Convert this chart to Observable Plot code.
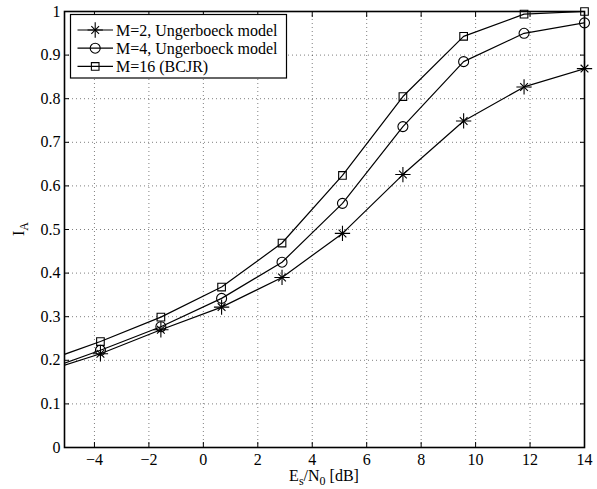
<!DOCTYPE html>
<html><head><meta charset="utf-8">
<script src="https://cdn.jsdelivr.net/npm/d3@7"></script>
<script src="https://cdn.jsdelivr.net/npm/@observablehq/plot@0.6"></script>
<style>
body{margin:0;background:#fff}
#chart svg{display:block}
</style>
</head><body><div id="chart"></div>
<script>
// Data
const snrDb = [-5.99, -3.78, -1.56, 0.67, 2.89, 5.11, 7.33, 9.56, 11.78, 14.0];
const iaM2  = [0.171, 0.215, 0.270, 0.322, 0.390, 0.491, 0.626, 0.749, 0.827, 0.869];
const iaM4  = [0.173, 0.223, 0.277, 0.342, 0.425, 0.560, 0.736, 0.885, 0.950, 0.974];
const iaM16 = [0.194, 0.243, 0.299, 0.368, 0.469, 0.624, 0.805, 0.943, 0.994, 1.000];
const seriesNames = ["M=2, Ungerboeck model", "M=4, Ungerboeck model", "M=16 (BCJR)"];
const seriesSymbols = ["star", "circle", "square"];
const xTicks = [-4, -2, 0, 2, 4, 6, 8, 10, 12, 14];
const yTicks = [0, 0.1, 0.2, 0.3, 0.4, 0.5, 0.6, 0.7, 0.8, 0.9, 1];
const xDomain = [-5.1, 14];
const yDomain = [0, 1];

const rows = [];
[iaM2, iaM4, iaM16].forEach((vals, s) => {
  vals.forEach((v, i) => rows.push({x: snrDb[i], y: v, series: seriesNames[s], sym: seriesSymbols[s]}));
});
const visible = d => d.x >= xDomain[0];

const fmtY = d => String(+d.toFixed(1));
const font = "Liberation Serif, Times New Roman, serif";

const chart = Plot.plot({
  width: 597,
  height: 489,
  marginLeft: 64,
  marginRight: 13,
  marginTop: 11,
  marginBottom: 42,
  style: {fontFamily: font, fontSize: "16px", background: "#fff", color: "#000"},
  x: {domain: xDomain},
  y: {domain: yDomain},
  marks: [
    Plot.gridX(xTicks, {stroke: "#000", strokeOpacity: 0.5, strokeDasharray: "1,3"}),
    Plot.gridY(yTicks, {stroke: "#000", strokeOpacity: 0.5, strokeDasharray: "1,3"}),
    Plot.axisX(xTicks, {anchor: "bottom", tickSize: -5, tickPadding: 11, label: null, fontSize: 16}),
    Plot.axisX(xTicks, {anchor: "top", tickSize: -5, tickFormat: () => "", label: null}),
    Plot.axisY(yTicks, {anchor: "left", tickSize: -5, tickPadding: 9, tickFormat: fmtY, label: null, fontSize: 16}),
    Plot.axisY(yTicks, {anchor: "right", tickSize: -5, tickFormat: () => "", label: null}),
    Plot.line(rows, {x: "x", y: "y", z: "series", stroke: "#000", strokeWidth: 1.2, clip: true}),
    Plot.dot(rows.filter(d => visible(d) && d.sym === "circle"), {x: "x", y: "y", symbol: "circle", r: 5, stroke: "#000", strokeWidth: 1.1, fill: "none"}),
    Plot.dot(rows.filter(d => visible(d) && d.sym === "square"), {x: "x", y: "y", symbol: "square", r: 4.3, stroke: "#000", strokeWidth: 1.1, fill: "none"}),
    Plot.dot(rows.filter(d => visible(d) && d.sym === "star"), {x: "x", y: "y", symbol: "plus", r: 5, stroke: "#000", strokeWidth: 1.1, fill: "none"}),
    Plot.dot(rows.filter(d => visible(d) && d.sym === "star"), {x: "x", y: "y", symbol: "times", r: 3.6, stroke: "#000", strokeWidth: 1.1, fill: "none"}),
    Plot.frame({stroke: "#000", strokeWidth: 1.6})
  ]
});
document.getElementById("chart").appendChild(chart);

// Axis labels and legend
const svg = d3.select(chart);
const xs = chart.scale("x"), ys = chart.scale("y");
const pLeft = xs.range[0], pRight = xs.range[1];
const pTop = ys.range[1], pBottom = ys.range[0];

const xl = svg.append("text")
  .attr("x", (pLeft + pRight) / 2).attr("y", 481)
  .attr("text-anchor", "middle").style("font-family", font).style("font-size", "16px").attr("fill", "#000");
xl.append("tspan").text("E");
xl.append("tspan").attr("dy", 4).attr("font-size", "12px").text("s");
xl.append("tspan").attr("dy", -4).text("/N");
xl.append("tspan").attr("dy", 4).attr("font-size", "12px").text("0");
xl.append("tspan").attr("dy", -4).text(" [dB]");

const yl = svg.append("text")
  .attr("transform", `translate(24,${(pTop + pBottom) / 2}) rotate(-90)`)
  .attr("text-anchor", "middle").style("font-family", font).style("font-size", "16px").attr("fill", "#000");
yl.append("tspan").text("I");
yl.append("tspan").attr("dy", 4).attr("font-size", "12px").text("A");

// Legend box
const lg = svg.append("g").attr("transform", `translate(${pLeft + 6.5},${pTop + 3.5})`);
lg.append("rect").attr("x", 0).attr("y", 0).attr("width", 216).attr("height", 63.5)
  .attr("fill", "#fff").attr("stroke", "#000").attr("stroke-width", 1.2);
const symGen = {
  circle: d3.symbol(d3.symbolCircle, Math.PI * 25),
  square: d3.symbol(d3.symbolSquare, Math.PI * 4.3 * 4.3),
  plus: d3.symbol(d3.symbolPlus, Math.PI * 25),
  times: d3.symbol(d3.symbolTimes, Math.PI * 3.6 * 3.6)
};
seriesNames.forEach((name, i) => {
  const cy = 15.5 + i * 18.2;
  const row = lg.append("g").attr("transform", `translate(0,${cy})`);
  row.append("line").attr("x1", 7).attr("x2", 42.5).attr("y1", 0).attr("y2", 0).attr("stroke", "#000").attr("stroke-width", 1.2);
  const syms = seriesSymbols[i] === "star" ? ["plus", "times"] : [seriesSymbols[i]];
  syms.forEach(s => row.append("path").attr("d", symGen[s]()).attr("transform", "translate(24.7,0)")
    .attr("fill", "none").attr("stroke", "#000").attr("stroke-width", 1.1));
  row.append("text").attr("x", 45.5).attr("y", 0).attr("dy", "0.35em").attr("text-anchor", "start")
    .style("font-family", font).style("font-size", "16px").attr("fill", "#000").text(name);
});
</script>
</body></html>
